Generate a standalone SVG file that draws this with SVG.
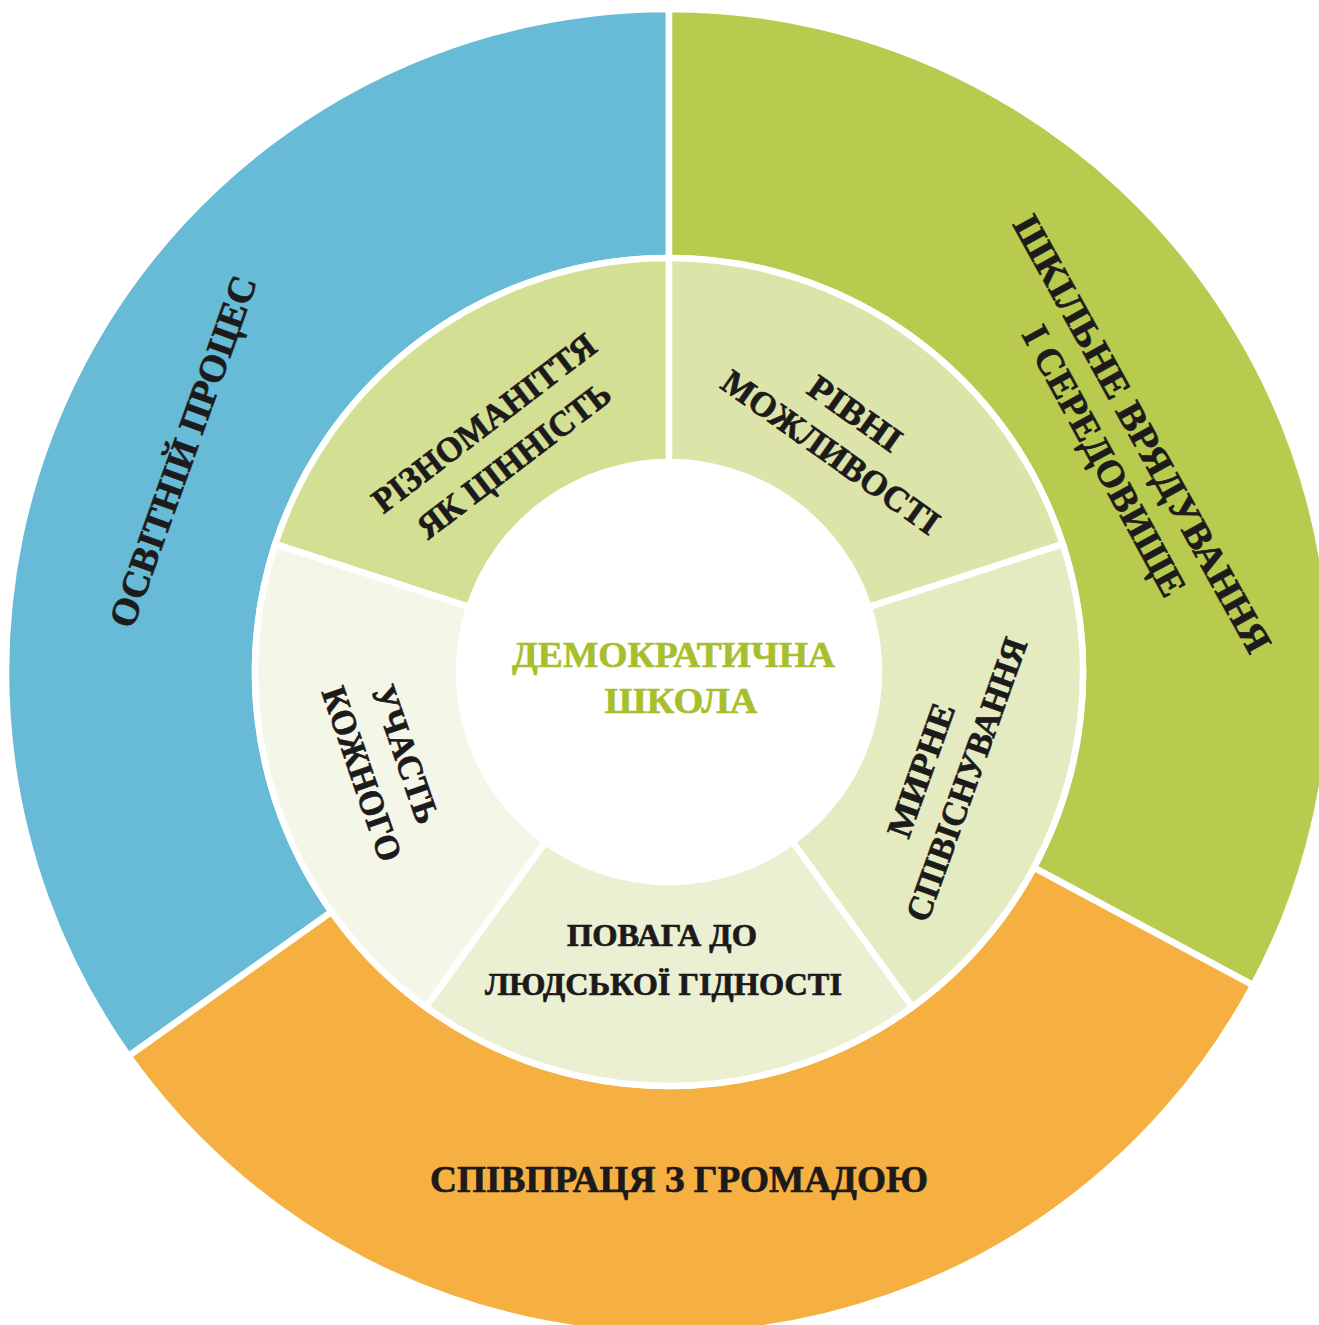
<svg xmlns="http://www.w3.org/2000/svg" width="1319" height="1325" viewBox="0 0 1319 1325">
<style>
.seg{stroke:#ffffff;stroke-width:6.5;stroke-linejoin:miter}
.t{font-family:"Liberation Serif","Times New Roman",serif;font-weight:bold;fill:#1c1a1a;stroke:#1c1a1a;stroke-width:0.7;text-anchor:middle}
.big{font-size:38px}
.mid{font-size:35px}
.sm{font-size:32px}
.ctr{font-family:"Liberation Serif","Times New Roman",serif;font-weight:bold;fill:#a7bf2c;stroke:#a7bf2c;stroke-width:0.6;text-anchor:middle;font-size:35px}
</style>
<rect x="0" y="0" width="1319" height="1325" fill="#ffffff"/>
<g id="outer-ring">
<g id="osvitnii-protses">
<path class="seg" fill="#67bbd7" d="M331.54 911.82 L128.57 1056.06 A663 663 0 0 1 669 9 L669 258 A414 414 0 0 0 331.54 911.82 Z"/>
<text class="t big" transform="translate(183.2 451.5) rotate(-70.3)" y="12.5" textLength="370" lengthAdjust="spacingAndGlyphs">ОСВІТНІЙ ПРОЦЕС</text>
</g>
<g id="shkilne-vriaduvannia">
<path class="seg" fill="#b8cb4f" d="M669 258 L669 9 A663 663 0 0 1 1253.30 985.30 L1033.86 867.64 A414 414 0 0 0 669 258 Z"/>
<text class="t big" transform="translate(1142 434) rotate(61.1)" y="12.5" textLength="493" lengthAdjust="spacingAndGlyphs">ШКІЛЬНЕ ВРЯДУВАННЯ</text>
<text class="t big" transform="translate(1104 461) rotate(61.5)" y="12.5" textLength="302" lengthAdjust="spacingAndGlyphs">І СЕРЕДОВИЩЕ</text>
</g>
<g id="spivpratsia">
<path class="seg" fill="#f6b041" d="M1033.86 867.64 L1253.30 985.30 A663 663 0 0 1 128.57 1056.06 L331.54 911.82 A414 414 0 0 0 1033.86 867.64 Z"/>
<text class="t big" x="679" y="1192" textLength="498" lengthAdjust="spacingAndGlyphs">СПІВПРАЦЯ З ГРОМАДОЮ</text>
</g>
</g>
<g id="inner-ring">
<g id="riznomanittia">
<path class="seg" fill="#d3df93" d="M469.28 607.11 L275.26 544.07 A414 414 0 0 1 669 258 L669 462 A210 210 0 0 0 469.28 607.11 Z"/>
<text class="t mid" transform="translate(484 423.3) rotate(-37.3)" y="11.5" textLength="271" lengthAdjust="spacingAndGlyphs">РІЗНОМАНІТТЯ</text>
<text class="t mid" transform="translate(514 460.3) rotate(-37.3)" y="11.5" textLength="234" lengthAdjust="spacingAndGlyphs">ЯК ЦІННІСТЬ</text>
</g>
<g id="rivni-mozhlyvosti">
<path class="seg" fill="#dce4a9" d="M669 462 L669 258 A414 414 0 0 1 1062.74 544.07 L868.72 607.11 A210 210 0 0 0 669 462 Z"/>
<text class="t mid" transform="translate(855 413.7) rotate(35.3)" y="11.5" textLength="106" lengthAdjust="spacingAndGlyphs">РІВНІ</text>
<text class="t mid" transform="translate(830.7 452.3) rotate(35.3)" y="11.5" textLength="258" lengthAdjust="spacingAndGlyphs">МОЖЛИВОСТІ</text>
</g>
<g id="myrne-spivisnuvannia">
<path class="seg" fill="#e4ebc1" d="M868.72 607.11 L1062.74 544.07 A414 414 0 0 1 912.34 1006.93 L792.44 841.89 A210 210 0 0 0 868.72 607.11 Z"/>
<text class="t mid" transform="translate(921.2 770.3) rotate(-70.3)" y="11.5" textLength="140" lengthAdjust="spacingAndGlyphs">МИРНЕ</text>
<text class="t mid" transform="translate(966.7 779.5) rotate(-70.3)" y="11.5" textLength="298" lengthAdjust="spacingAndGlyphs">СПІВІСНУВАННЯ</text>
</g>
<g id="povaha">
<path class="seg" fill="#ecf0d3" d="M792.44 841.89 L912.34 1006.93 A414 414 0 0 1 425.66 1006.93 L545.56 841.89 A210 210 0 0 0 792.44 841.89 Z"/>
<text class="t sm" x="662" y="946" textLength="190" lengthAdjust="spacingAndGlyphs">ПОВАГА ДО</text>
<text class="t sm" x="663.5" y="995" textLength="357" lengthAdjust="spacingAndGlyphs">ЛЮДСЬКОЇ ГІДНОСТІ</text>
</g>
<g id="uchast-kozhnoho">
<path class="seg" fill="#f4f6e8" d="M545.56 841.89 L425.66 1006.93 A414 414 0 0 1 275.26 544.07 L469.28 607.11 A210 210 0 0 0 545.56 841.89 Z"/>
<text class="t mid" transform="translate(405.3 754.3) rotate(71)" y="11.5" textLength="144" lengthAdjust="spacingAndGlyphs">УЧАСТЬ</text>
<text class="t mid" transform="translate(361.7 774) rotate(71)" y="11.5" textLength="182" lengthAdjust="spacingAndGlyphs">КОЖНОГО</text>
</g>
</g>
<g id="demokratychna-shkola">
<circle cx="669" cy="672" r="212" fill="#ffffff"/>
<text class="ctr" x="673.5" y="667" textLength="323" lengthAdjust="spacingAndGlyphs">ДЕМОКРАТИЧНА</text>
<text class="ctr" x="681" y="713" textLength="153" lengthAdjust="spacingAndGlyphs">ШКОЛА</text>
</g>
</svg>
